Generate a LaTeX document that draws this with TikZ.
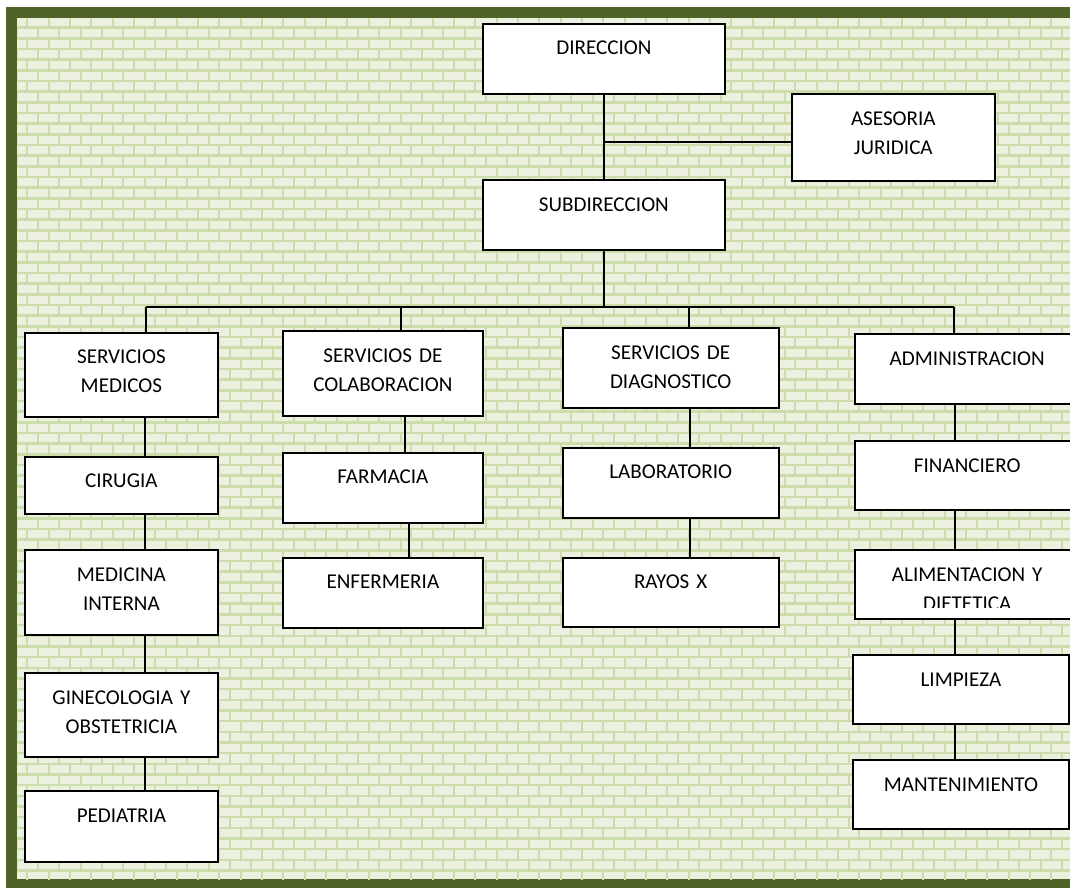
\documentclass[tikz,border=0pt]{standalone}
\usepackage{fontspec}
\setmainfont{Carlito}
\usetikzlibrary{positioning}
\definecolor{olivedark}{HTML}{4F6228}
\definecolor{brickfill}{HTML}{EBF1DE}
\definecolor{mortar}{HTML}{CCDDAB}
\tikzset{
    every node/.style={font=\fontsize{15pt}{20.6pt}\selectfont},
    unit/.style 2 args={draw,line width=1.4pt,fill=white,anchor=north,align=center,
        inner xsep=0pt,inner ysep=12.4pt,text width=#1,text height=9.7pt,text depth=#2},
    link/.style={line width=1.4pt}
}

\begin{document}
\begin{tikzpicture}[x=0.025cm,y=-0.025cm]

    \useasboundingbox (0,0) rectangle (1070,887);

    \fill[olivedark] (5.7,6.7) rectangle (1110,910);
    \fill[brickfill] (17.3,18.3) rectangle (1110,879.3);
    \begin{scope}
        \clip (17.3,18.3) rectangle (1110,879.3);
        \draw[mortar,line width=1.7pt] \foreach \r in {0,...,81} {(17,{17+10.667*\r}) -- (1110,{17+10.667*\r})};
        \draw[mortar,line width=1.5pt] \foreach \r in {0,...,80} {\foreach \c in {0,...,52} {({6.1+21.333*\c+10.667*mod(\r,2)},{17+10.667*\r}) -- ++(0,10.667)}};
    \end{scope}

    \node[unit={6.06cm}{15.7pt}] (dir) at (603.9,22.7) {DIRECCION};
    \node[unit={5.08cm}{27.2pt}] (ase) at (893.3,93.3) {ASESORIA\\JURIDICA};
    \node[unit={6.06cm}{15.3pt}] (sub) at (603.9,179.3) {SUBDIRECCION};

    \node[unit={4.81cm}{25.2pt}] (sm) at (121.4,331.7) {SERVICIOS\\MEDICOS};
    \node[unit={5.01cm}{26.2pt}] (sc) at (382.9,330) {SERVICIOS DE\\COLABORACION};
    \node[unit={5.40cm}{22.4pt}] (sd) at (670.7,327.3) {SERVICIOS DE\\DIAGNOSTICO};
    \node[unit={5.60cm}{14.9pt}] (adm) at (967.2,333.3) {ADMINISTRACION};

    \node[unit={4.81cm}{6.5pt}] (cir) at (121.4,455.7) {CIRUGIA};
    \node[unit={5.01cm}{15.3pt}] (far) at (382.9,451.7) {FARMACIA};
    \node[unit={5.40cm}{15.3pt}] (lab) at (670.7,446.7) {LABORATORIO};
    \node[unit={5.60cm}{14.8pt}] (fin) at (967.2,440) {FINANCIERO};

    \node[unit={4.81cm}{26pt}] (med) at (121.4,549.3) {MEDICINA\\INTERNA};
    \node[unit={5.01cm}{15.3pt}] (enf) at (382.9,556.7) {ENFERMERIA};
    \node[unit={5.40cm}{14.8pt}] (ray) at (670.7,556.7) {RAYOS X};
    \node[unit={5.60cm}{14.6pt}] (ali) at (967.2,549.3) {ALIMENTACION Y\\DIETETICA};
    \fill[white] (856.6,607.5) rectangle (1077,617.2);

    \node[unit={4.81cm}{25.2pt}] (gin) at (121.4,672) {GINECOLOGIA Y\\OBSTETRICIA};
    \node[unit={5.41cm}{14.8pt}] (lim) at (960.9,654) {LIMPIEZA};
    \node[unit={5.41cm}{14.6pt}] (man) at (960.9,759.3) {MANTENIMIENTO};
    \node[unit={4.81cm}{15.8pt}] (ped) at (121.4,790) {PEDIATRIA};

    \coordinate (j) at (603.9,142.3);
    \coordinate (bar) at (603.9,306.7);
    \draw[link] (dir) -- (sub);
    \draw[link] (j) -- (j -| ase.west);
    \draw[link] (sub) -- (bar);

    \coordinate (l1) at (146,0);
    \coordinate (l2) at (401,0);
    \coordinate (l3) at (689,0);
    \coordinate (l4) at (954,0);
    \draw[link] (l1 |- bar) -- (l4 |- bar);
    \foreach \a/\b in {l1/sm,l2/sc,l3/sd,l4/adm}
        \draw[link] (\a |- bar) -- (\a |- \b.north);

    \coordinate (k1) at (145,0);
    \coordinate (k2) at (405,0);
    \coordinate (k2b) at (409,0);
    \coordinate (k3) at (690,0);
    \coordinate (k4) at (955,0);
    \foreach \a/\b/\c in {k1/sm/cir,k1/cir/med,k1/med/gin,k1/gin/ped,k2/sc/far,k2b/far/enf,
                          k3/sd/lab,k3/lab/ray,k4/adm/fin,k4/fin/ali,k4/ali/lim,k4/lim/man}
        \draw[link] (\a |- \b.south) -- (\a |- \c.north);

\end{tikzpicture}
\end{document}
